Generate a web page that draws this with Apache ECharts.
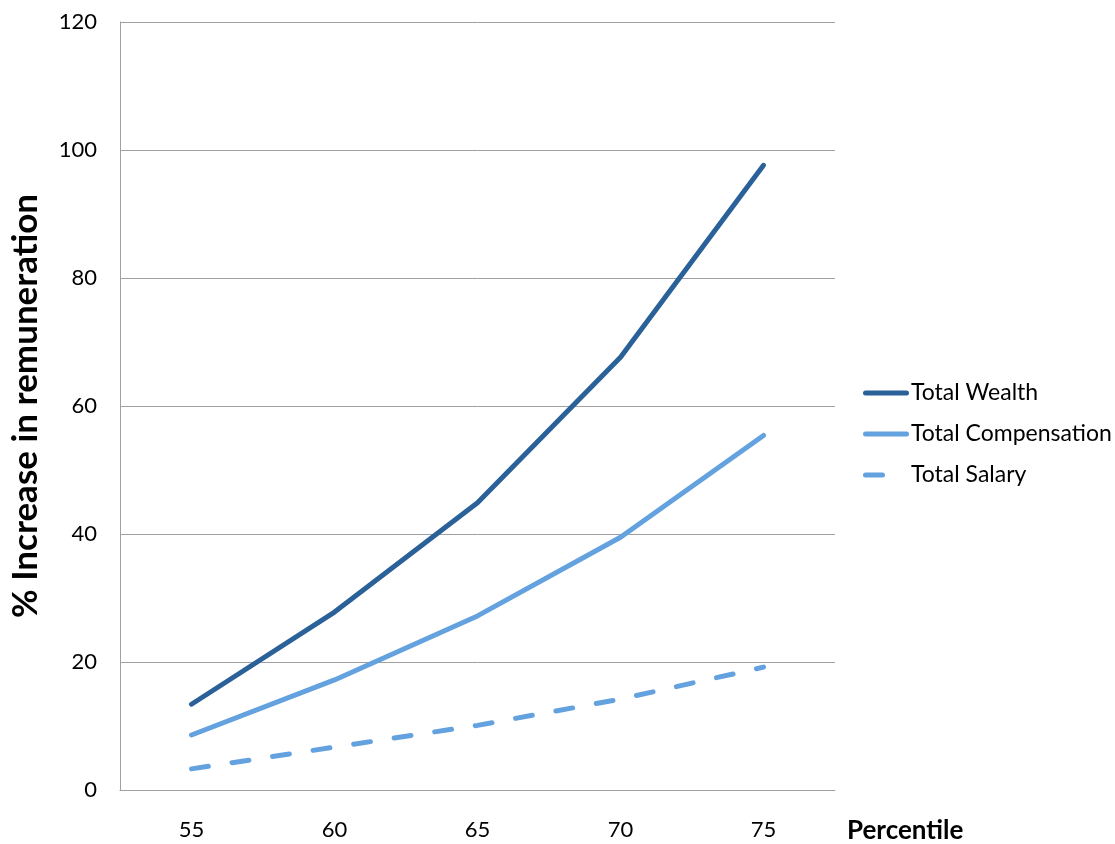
<!DOCTYPE html>
<html>
<head>
<meta charset="utf-8">
<script src="https://cdn.jsdelivr.net/npm/echarts@6/dist/echarts.min.js"></script>
<style>html,body{margin:0;padding:0;background:#fff;}#c{width:1115px;height:844px;}</style>
</head>
<body>
<div id="c"></div>
<script>
const categories = ['55', '60', '65', '70', '75'];
const totalWealth = [13.4, 27.8, 44.9, 67.6, 97.6];
const totalCompensation = [8.6, 17.2, 27.2, 39.5, 55.4];
const totalSalary = [3.3, 6.7, 10.1, 14.2, 19.2];
const yTicks = [0, 20, 40, 60, 80, 100, 120];

const font = 'Lato, "Open Sans", sans-serif';
const solidIcon = 'path://M2.5,0 L43.5,0 A2.5,2.5 0 0 1 43.5,5 L2.5,5 A2.5,2.5 0 0 1 2.5,0 Z';
const dashIcon = 'path://M2.5,0 L19.5,0 A2.5,2.5 0 0 1 19.5,5 L2.5,5 A2.5,2.5 0 0 1 2.5,0 Z M46,2.5 L46,2.5 Z';
const chart = echarts.init(document.getElementById('c'));
chart.setOption({
  animation: false,
  backgroundColor: '#fff',
  grid: { left: 118, right: 280, top: 22, bottom: 53 },
  legend: {
    orient: 'vertical', left: 858, top: 376, itemGap: 17,
    itemWidth: 46, itemHeight: 5,
    textStyle: { fontFamily: font, fontSize: 23, color: '#000', lineHeight: 24, padding: [0,0,0,-3] },
    data: [
      { name: 'Total Wealth', icon: solidIcon },
      { name: 'Total Compensation', icon: solidIcon },
      { name: 'Total Salary', icon: dashIcon }
    ]
  },
  xAxis: {
    type: 'category', data: categories, boundaryGap: true,
    axisLine: { lineStyle: { color: '#a0a0a0', width: 1 } },
    axisTick: { show: false },
    axisLabel: { fontFamily: font, fontSize: 22, color: '#000', margin: 29 },
    name: 'Percentile', nameLocation: 'end', nameGap: 12,
    nameTextStyle: { fontFamily: font, fontSize: 26, fontWeight: 'bold', color: '#000', verticalAlign: 'top', padding: [28,0,0,0] }
  },
  yAxis: {
    type: 'value', min: 0, max: 120, interval: 20,
    axisLine: { show: true, lineStyle: { color: '#a0a0a0', width: 1 } },
    axisTick: { show: false },
    splitLine: { lineStyle: { color: '#a0a0a0', width: 1 } },
    axisLabel: { fontFamily: font, fontSize: 22, color: '#000', margin: 23,
      formatter: v => yTicks.includes(v) ? String(v) : '' },
    name: '% Increase in remuneration', nameLocation: 'middle', nameRotate: 90, nameGap: 77,
    nameTextStyle: { fontFamily: font, fontSize: 35, fontWeight: 'bold', color: '#000' }
  },
  series: [
    { name: 'Total Wealth', type: 'line', data: totalWealth, showSymbol: false, symbol: 'none',
      color: '#2B6199', lineStyle: { width: 5, color: '#2B6199', cap: 'round', join: 'round' } },
    { name: 'Total Compensation', type: 'line', data: totalCompensation, showSymbol: false, symbol: 'none',
      color: '#64A2DF', lineStyle: { width: 5, color: '#64A2DF', cap: 'round', join: 'round' } },
    { name: 'Total Salary', type: 'line', data: totalSalary, showSymbol: false, symbol: 'none',
      color: '#64A2DF', lineStyle: { width: 5, color: '#64A2DF', type: [17, 24], cap: 'round', join: 'round' } }
  ]
});
</script>
</body>
</html>
